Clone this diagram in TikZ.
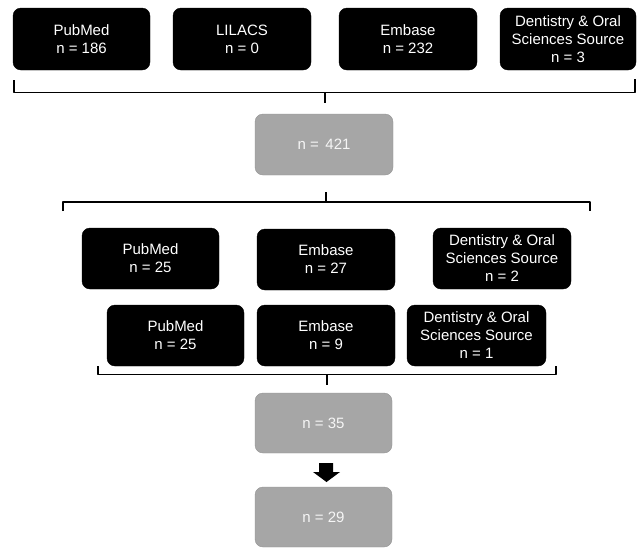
\documentclass[tikz,border=0pt]{standalone}
\usepackage{fontspec}
\setmainfont{Liberation Sans}
\begin{document}
\begin{tikzpicture}[x=1pt,y=-1pt,
  box/.style={rectangle,rounded corners=8pt,align=center,inner sep=0pt,
    font=\fontsize{15}{18}\selectfont,minimum width=137pt,minimum height=61pt},
  blk/.style={box,fill=black,draw=black,text=white},
  gry/.style={box,fill=gray!70,draw=gray!85,text=white!93!gray},
  brk/.style={line width=1.8pt,line join=round},
  blockarrow/.style={fill=black}]
\useasboundingbox (0,0) rectangle (638,547);
% top row
\node[blk,minimum height=62pt] (pm1) at (81.5,39) {PubMed\\n = 186};
\node[blk,minimum width=138pt,minimum height=62pt] (li1) at (242,39) {LILACS\\n = 0};
\node[blk,minimum width=138pt,minimum height=62pt] (em1) at (408,39) {Embase\\n = 232};
\node[blk,minimum width=136pt,minimum height=62pt] (de1) at (568,39) {Dentistry \& Oral\\Sciences Source\\n = 3};
% bracket 1
\coordinate (b1l) at (14,80);
\coordinate (b1r) at (635,79);
\coordinate (b1c) at (325,103);
\draw[brk] (b1l) -- (14,92.5) -- (635,92.5) -- (b1r);
\draw[brk] (325,92.5) -- (b1c);
% total
\node[gry,minimum width=138pt] (t421) at (324,144.5) {n = \,421};
% bracket 2
\coordinate (b2c) at (326,192);
\draw[brk] (63,211) -- (63,202) -- (590,202) -- (590,211);
\draw[brk] (b2c) -- (326,202);
% middle row 1
\node[blk] (pm2) at (150.5,258.5) {PubMed\\n = 25};
\node[blk,minimum width=138pt] (em2) at (326,259.5) {Embase\\n = 27};
\node[blk,minimum width=138pt] (de2) at (502,258.5) {Dentistry \& Oral\\Sciences Source\\n = 2};
% middle row 2
\node[blk] (pm3) at (175.5,335.5) {PubMed\\n = 25};
\node[blk,minimum width=138pt] (em3) at (326,335.5) {Embase\\n = 9};
\node[blk,minimum width=139pt] (de3) at (476.5,335.5) {Dentistry \& Oral\\Sciences Source\\n = 1};
% bracket 3
\coordinate (b3c) at (327,385);
\draw[brk] (98,366) -- (98,374.5) -- (556,374.5) -- (556,366);
\draw[brk] (327,374.5) -- (b3c);
% n=35
\node[gry,minimum height=60pt] (t35) at (323.5,423) {n = 35};
% block arrow
\fill[blockarrow] (319,463) -- (333,463) -- (333,472) -- (340,472) -- (326.5,482) -- (313,472) -- (319,472) -- cycle;
% n=29
\node[gry,minimum height=60pt] (t29) at (323.5,517) {n = 29};
\end{tikzpicture}
\end{document}
